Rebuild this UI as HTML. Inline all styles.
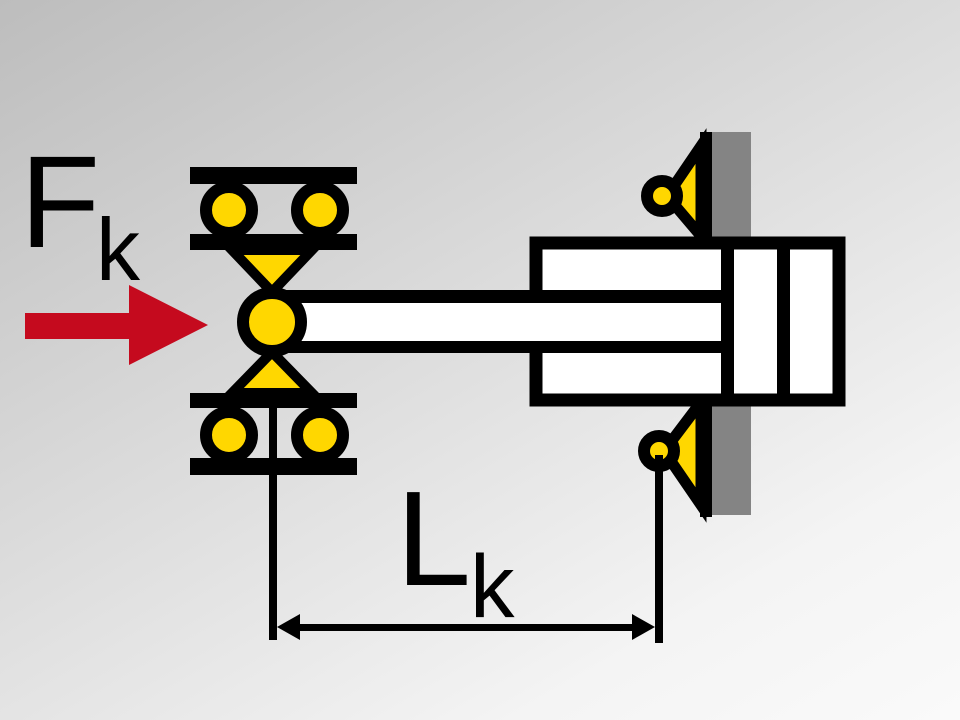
<!DOCTYPE html>
<html><head><style>
html,body{margin:0;padding:0;}
body{width:960px;height:720px;overflow:hidden;background:linear-gradient(150deg,#bdbdbd 0%,#dcdcdc 45%,#f4f4f4 80%,#fafafa 100%);}
svg{position:absolute;left:0;top:0;}
text{font-family:"Liberation Sans",sans-serif;fill:#000;}
</style></head><body>
<svg width="960" height="720" viewBox="0 0 960 720">
<text x="20" y="247" font-size="131">F</text>
<text x="96" y="280" font-size="88">k</text>
<text x="396" y="585" font-size="135">L</text>
<text x="470" y="617" font-size="89">k</text>
<polygon points="25,313 129,313 129,285 208,325 129,365 129,339 25,339" fill="#c50a1e"/>
<rect x="712" y="132" width="39" height="383" fill="#848484"/>
<rect x="700" y="132" width="12" height="385" fill="#000"/>
<polygon points="667,196 701,146 701,236" fill="#ffd700" stroke="#000" stroke-width="11" stroke-linejoin="miter"/>
<circle cx="662" cy="196" r="15" fill="#ffd700" stroke="#000" stroke-width="12"/>
<polygon points="664,451 701,402 701,505" fill="#ffd700" stroke="#000" stroke-width="11"/>
<circle cx="659" cy="451" r="15" fill="#ffd700" stroke="#000" stroke-width="12"/>
<rect x="536" y="243" width="303" height="157" fill="#fff" stroke="#000" stroke-width="13"/>
<rect x="721" y="243" width="13" height="157" fill="#000"/>
<rect x="777" y="243" width="13" height="157" fill="#000"/>
<rect x="272" y="290" width="449" height="63" fill="#000"/>
<rect x="290" y="303" width="431" height="38" fill="#fff"/>
<rect x="190" y="167" width="167" height="17" fill="#000"/>
<rect x="190" y="234" width="167" height="16" fill="#000"/>
<rect x="190" y="393" width="167" height="15" fill="#000"/>
<rect x="190" y="458" width="167" height="17" fill="#000"/>
<polygon points="232,250 312,250 272,292" fill="#ffd700" stroke="#000" stroke-width="10"/>
<polygon points="232,393 312,393 272,352" fill="#ffd700" stroke="#000" stroke-width="10"/>
<circle cx="229" cy="210" r="23" fill="#ffd700" stroke="#000" stroke-width="12"/>
<circle cx="320" cy="210" r="23" fill="#ffd700" stroke="#000" stroke-width="12"/>
<circle cx="229" cy="435" r="23" fill="#ffd700" stroke="#000" stroke-width="12"/>
<circle cx="320" cy="435" r="23" fill="#ffd700" stroke="#000" stroke-width="12"/>
<circle cx="272" cy="322" r="29" fill="#ffd700" stroke="#000" stroke-width="12"/>
<rect x="269" y="400" width="8" height="240" fill="#000"/>
<rect x="655" y="455" width="8" height="188" fill="#000"/>
<rect x="290" y="624" width="345" height="7" fill="#000"/>
<polygon points="277,627 300,614 300,640" fill="#000"/>
<polygon points="655,627 632,614 632,640" fill="#000"/>
</svg>
</body></html>
